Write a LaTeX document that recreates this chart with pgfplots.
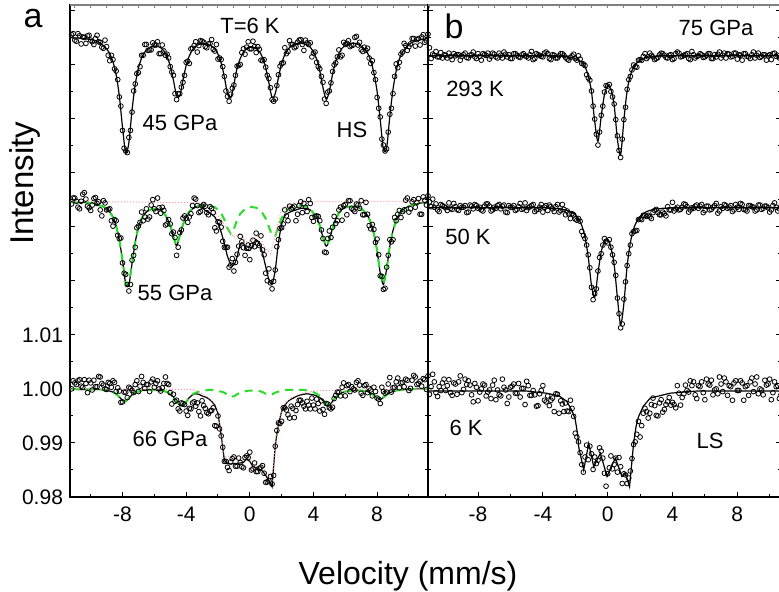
\documentclass[border=0pt]{standalone}
\usepackage{fontspec}
\setmainfont{Liberation Sans}
\usepackage{pgfplots}
\usepackage{pgfplotstable}
\pgfplotsset{compat=1.18}
\definecolor{fitgreen}{RGB}{40,220,40}
\definecolor{lspink}{RGB}{255,150,150}

\pgfplotstableread{
x a1 fa1 a2 fa2 ga2 a3 fa3 ga3 b1 fb1 b2 fb2 b3
-11.2 1.0655 1.0649 1.0342 1.0345 1.0345 1.0000 1.0000 1.0000 1.0617 1.0616 1.0331 1.0335 1.0011
-11.0 1.0645 1.0649 1.0353 1.0345 1.0345 1.0011 1.0000 1.0000 1.0631 1.0616 1.0346 1.0335 0.9990
-10.8 1.0657 1.0649 1.0336 1.0345 1.0345 1.0015 0.9999 0.9999 1.0619 1.0616 1.0351 1.0335 1.0027
-10.6 1.0638 1.0648 1.0347 1.0345 1.0345 1.0005 0.9999 0.9999 1.0624 1.0616 1.0342 1.0335 0.9993
-10.4 1.0650 1.0648 1.0363 1.0345 1.0345 1.0017 0.9999 0.9999 1.0614 1.0616 1.0328 1.0335 1.0004
-10.2 1.0653 1.0647 1.0338 1.0344 1.0344 0.9993 0.9999 0.9999 1.0612 1.0616 1.0339 1.0335 1.0011
-10.0 1.0645 1.0646 1.0330 1.0344 1.0344 1.0011 0.9999 0.9999 1.0617 1.0616 1.0335 1.0335 0.9997
-9.8 1.0637 1.0645 1.0352 1.0343 1.0343 1.0016 0.9999 0.9999 1.0621 1.0616 1.0344 1.0335 1.0017
-9.6 1.0654 1.0643 1.0343 1.0341 1.0341 1.0004 0.9999 0.9999 1.0609 1.0616 1.0332 1.0335 0.9988
-9.4 1.0641 1.0640 1.0331 1.0339 1.0339 1.0022 0.9999 0.9999 1.0616 1.0616 1.0337 1.0335 1.0009
-9.2 1.0630 1.0635 1.0348 1.0337 1.0337 1.0007 0.9998 0.9998 1.0618 1.0616 1.0330 1.0335 1.0013
-9.0 1.0633 1.0629 1.0331 1.0333 1.0333 0.9999 0.9997 0.9997 1.0615 1.0616 1.0336 1.0335 0.9993
-8.8 1.0607 1.0620 1.0333 1.0327 1.0327 1.0010 0.9996 0.9996 1.0621 1.0616 1.0339 1.0335 1.0018
-8.6 1.0609 1.0605 1.0301 1.0318 1.0318 1.0015 0.9994 0.9994 1.0612 1.0616 1.0327 1.0335 1.0015
-8.4 1.0588 1.0581 1.0311 1.0302 1.0302 0.9995 0.9991 0.9991 1.0618 1.0616 1.0338 1.0335 0.9989
-8.2 1.0540 1.0542 1.0278 1.0275 1.0275 0.9996 0.9985 0.9985 1.0614 1.0616 1.0341 1.0335 1.0010
-8.0 1.0478 1.0484 1.0233 1.0238 1.0238 0.9976 0.9979 0.9979 1.0620 1.0616 1.0334 1.0335 0.9978
-7.8 1.0440 1.0437 1.0212 1.0195 1.0195 0.9994 0.9977 0.9977 1.0608 1.0616 1.0331 1.0335 1.0000
-7.6 1.0465 1.0455 1.0181 1.0193 1.0193 1.0003 0.9983 0.9983 1.0618 1.0616 1.0338 1.0335 1.0007
-7.4 1.0512 1.0516 1.0238 1.0232 1.0232 0.9997 0.9989 0.9989 1.0621 1.0616 1.0342 1.0335 0.9994
-7.2 1.0564 1.0563 1.0262 1.0271 1.0271 1.0008 0.9993 0.9993 1.0615 1.0616 1.0329 1.0335 0.9982
-7.0 1.0585 1.0593 1.0301 1.0299 1.0299 0.9995 0.9995 0.9995 1.0619 1.0616 1.0336 1.0335 1.0016
-6.8 1.0617 1.0612 1.0327 1.0315 1.0315 1.0023 0.9997 0.9997 1.0612 1.0616 1.0339 1.0335 0.9998
-6.6 1.0637 1.0623 1.0318 1.0324 1.0324 1.0001 0.9998 0.9998 1.0617 1.0616 1.0333 1.0335 0.9987
-6.4 1.0626 1.0629 1.0314 1.0329 1.0329 1.0008 0.9998 0.9998 1.0623 1.0616 1.0340 1.0335 1.0003
-6.2 1.0627 1.0633 1.0340 1.0332 1.0332 1.0013 0.9998 0.9998 1.0614 1.0616 1.0326 1.0335 0.9973
-6.0 1.0636 1.0634 1.0333 1.0333 1.0333 1.0003 0.9998 0.9998 1.0611 1.0616 1.0336 1.0335 1.0003
-5.8 1.0642 1.0634 1.0353 1.0333 1.0333 1.0015 0.9997 0.9997 1.0620 1.0616 1.0339 1.0335 1.0009
-5.6 1.0620 1.0631 1.0325 1.0331 1.0331 0.9996 0.9997 0.9997 1.0617 1.0616 1.0332 1.0335 0.9992
-5.4 1.0625 1.0625 1.0330 1.0325 1.0325 1.0010 0.9996 0.9996 1.0613 1.0616 1.0343 1.0335 0.9985
-5.2 1.0619 1.0615 1.0305 1.0316 1.0316 1.0010 0.9994 0.9994 1.0620 1.0616 1.0334 1.0335 1.0001
-5.0 1.0596 1.0597 1.0305 1.0302 1.0302 0.9993 0.9990 0.9990 1.0615 1.0616 1.0330 1.0335 1.0014
-4.8 1.0580 1.0571 1.0290 1.0281 1.0281 0.9990 0.9985 0.9985 1.0618 1.0616 1.0337 1.0335 0.9988
-4.6 1.0535 1.0542 1.0247 1.0265 1.0265 0.9979 0.9977 0.9977 1.0609 1.0616 1.0341 1.0335 0.9997
-4.4 1.0546 1.0542 1.0289 1.0283 1.0283 0.9959 0.9969 0.9969 1.0620 1.0616 1.0331 1.0335 0.9968
-4.2 1.0567 1.0571 1.0316 1.0304 1.0304 0.9973 0.9968 0.9968 1.0617 1.0616 1.0336 1.0335 0.9991
-4.0 1.0604 1.0598 1.0316 1.0319 1.0319 0.9959 0.9976 0.9976 1.0614 1.0616 1.0327 1.0335 1.0006
-3.8 1.0602 1.0616 1.0318 1.0327 1.0328 0.9964 0.9984 0.9984 1.0623 1.0616 1.0339 1.0335 0.9976
-3.6 1.0630 1.0627 1.0339 1.0333 1.0334 0.9974 0.9989 0.9990 1.0611 1.0616 1.0340 1.0334 0.9969
-3.4 1.0642 1.0634 1.0351 1.0336 1.0337 0.9968 0.9991 0.9993 1.0618 1.0616 1.0333 1.0334 0.9983
-3.2 1.0635 1.0637 1.0326 1.0338 1.0339 0.9958 0.9990 0.9995 1.0612 1.0616 1.0337 1.0334 0.9991
-3.0 1.0643 1.0638 1.0338 1.0336 1.0340 0.9978 0.9987 0.9996 1.0616 1.0615 1.0327 1.0333 0.9955
-2.8 1.0633 1.0639 1.0338 1.0330 1.0340 0.9964 0.9985 0.9997 1.0620 1.0615 1.0341 1.0332 0.9972
-2.6 1.0638 1.0637 1.0322 1.0327 1.0340 0.9954 0.9982 0.9998 1.0613 1.0615 1.0322 1.0331 0.9974
-2.4 1.0646 1.0634 1.0334 1.0323 1.0338 0.9960 0.9977 0.9998 1.0608 1.0614 1.0324 1.0329 0.9958
-2.2 1.0625 1.0629 1.0298 1.0318 1.0336 0.9932 0.9970 0.9997 1.0616 1.0613 1.0324 1.0326 0.9964
-2.0 1.0610 1.0619 1.0309 1.0306 1.0331 0.9950 0.9955 0.9996 1.0611 1.0611 1.0314 1.0322 0.9918
-1.8 1.0609 1.0603 1.0299 1.0290 1.0325 0.9913 0.9915 0.9995 1.0616 1.0608 1.0315 1.0315 0.9902
-1.6 1.0578 1.0577 1.0262 1.0268 1.0313 0.9866 0.9868 0.9993 1.0602 1.0604 1.0291 1.0302 0.9860
-1.4 1.0541 1.0546 1.0262 1.0245 1.0297 0.9855 0.9862 0.9989 1.0598 1.0596 1.0278 1.0281 0.9874
-1.2 1.0545 1.0538 1.0229 1.0231 1.0287 0.9865 0.9861 0.9986 1.0575 1.0579 1.0248 1.0244 0.9869
-1.0 1.0562 1.0563 1.0218 1.0229 1.0296 0.9874 0.9862 0.9986 1.0551 1.0550 1.0188 1.0192 0.9880
-0.8 1.0597 1.0593 1.0249 1.0244 1.0312 0.9857 0.9862 0.9990 1.0499 1.0495 1.0176 1.0170 0.9874
-0.6 1.0600 1.0611 1.0282 1.0268 1.0324 0.9864 0.9863 0.9993 1.0451 1.0458 1.0218 1.0214 0.9868
-0.4 1.0629 1.0623 1.0261 1.0269 1.0330 0.9854 0.9864 0.9995 1.0506 1.0504 1.0250 1.0253 0.9885
-0.2 1.0632 1.0630 1.0260 1.0258 1.0334 0.9876 0.9870 0.9996 1.0549 1.0544 1.0278 1.0272 0.9844
0.0 1.0629 1.0632 1.0239 1.0256 1.0336 0.9883 0.9866 0.9997 1.0560 1.0561 1.0270 1.0277 0.9843
0.2 1.0643 1.0632 1.0275 1.0266 1.0336 0.9852 0.9856 0.9997 1.0550 1.0554 1.0262 1.0261 0.9876
0.4 1.0622 1.0630 1.0288 1.0276 1.0335 0.9847 0.9854 0.9997 1.0527 1.0525 1.0234 1.0230 0.9860
0.6 1.0628 1.0624 1.0265 1.0268 1.0331 0.9853 0.9851 0.9996 1.0468 1.0462 1.0168 1.0169 0.9846
0.8 1.0607 1.0613 1.0257 1.0251 1.0325 0.9858 0.9848 0.9994 1.0428 1.0433 1.0113 1.0119 0.9856
1.0 1.0595 1.0594 1.0214 1.0226 1.0315 0.9827 0.9840 0.9991 1.0498 1.0497 1.0166 1.0158 0.9843
1.2 1.0574 1.0566 1.0222 1.0202 1.0300 0.9830 0.9830 0.9989 1.0554 1.0551 1.0228 1.0227 0.9825
1.4 1.0535 1.0539 1.0185 1.0194 1.0283 0.9824 0.9819 0.9990 1.0578 1.0580 1.0266 1.0270 0.9848
1.6 1.0536 1.0546 1.0220 1.0220 1.0283 0.9894 0.9895 0.9993 1.0599 1.0595 1.0291 1.0296 0.9897
1.8 1.0581 1.0576 1.0276 1.0270 1.0300 0.9937 0.9936 0.9995 1.0595 1.0603 1.0293 1.0310 0.9916
2.0 1.0602 1.0602 1.0298 1.0304 1.0316 0.9940 0.9958 0.9997 1.0609 1.0608 1.0314 1.0319 0.9911
2.2 1.0631 1.0618 1.0331 1.0320 1.0326 0.9965 0.9970 0.9998 1.0615 1.0611 1.0321 1.0324 0.9955
2.4 1.0624 1.0628 1.0311 1.0325 1.0332 0.9952 0.9977 0.9998 1.0611 1.0613 1.0319 1.0328 0.9958
2.6 1.0637 1.0634 1.0333 1.0328 1.0336 0.9968 0.9981 0.9998 1.0621 1.0614 1.0318 1.0330 0.9955
2.8 1.0631 1.0638 1.0338 1.0330 1.0338 0.9947 0.9984 0.9998 1.0614 1.0615 1.0326 1.0332 0.9983
3.0 1.0641 1.0639 1.0323 1.0332 1.0339 0.9971 0.9987 0.9998 1.0611 1.0615 1.0332 1.0333 0.9951
3.2 1.0646 1.0640 1.0346 1.0334 1.0339 0.9979 0.9989 0.9998 1.0618 1.0616 1.0322 1.0333 0.9974
3.4 1.0626 1.0638 1.0343 1.0334 1.0338 0.9968 0.9990 0.9998 1.0620 1.0616 1.0327 1.0334 0.9957
3.6 1.0640 1.0636 1.0328 1.0334 1.0336 0.9977 0.9991 0.9997 1.0613 1.0616 1.0320 1.0334 0.9971
3.8 1.0640 1.0632 1.0343 1.0331 1.0333 0.9963 0.9990 0.9996 1.0617 1.0616 1.0331 1.0335 0.9984
4.0 1.0621 1.0623 1.0310 1.0325 1.0325 0.9970 0.9989 0.9994 1.0609 1.0616 1.0345 1.0335 0.9975
4.2 1.0604 1.0610 1.0320 1.0317 1.0317 0.9981 0.9987 0.9991 1.0620 1.0616 1.0333 1.0335 0.9965
4.4 1.0592 1.0588 1.0311 1.0302 1.0302 0.9959 0.9984 0.9987 1.0621 1.0616 1.0331 1.0335 0.9992
4.6 1.0567 1.0557 1.0278 1.0280 1.0280 0.9962 0.9978 0.9980 1.0615 1.0616 1.0336 1.0335 0.9984
4.8 1.0528 1.0536 1.0252 1.0264 1.0264 0.9973 0.9971 0.9972 1.0618 1.0616 1.0341 1.0335 1.0007
5.0 1.0551 1.0550 1.0292 1.0275 1.0275 0.9965 0.9969 0.9970 1.0611 1.0616 1.0327 1.0335 0.9994
5.2 1.0587 1.0582 1.0299 1.0297 1.0297 0.9966 0.9977 0.9977 1.0624 1.0616 1.0335 1.0335 1.0006
5.4 1.0603 1.0606 1.0306 1.0314 1.0314 0.9988 0.9985 0.9985 1.0612 1.0616 1.0338 1.0335 0.9989
5.6 1.0627 1.0620 1.0331 1.0325 1.0325 0.9994 0.9990 0.9990 1.0616 1.0616 1.0334 1.0335 1.0006
5.8 1.0617 1.0630 1.0312 1.0332 1.0332 1.0003 0.9993 0.9993 1.0618 1.0616 1.0341 1.0335 1.0013
6.0 1.0637 1.0635 1.0341 1.0335 1.0335 0.9987 0.9995 0.9995 1.0614 1.0616 1.0330 1.0335 0.9980
6.2 1.0644 1.0638 1.0348 1.0337 1.0337 1.0008 0.9996 0.9996 1.0620 1.0616 1.0338 1.0335 1.0009
6.4 1.0635 1.0639 1.0334 1.0337 1.0337 1.0004 0.9997 0.9997 1.0611 1.0616 1.0332 1.0335 1.0016
6.6 1.0650 1.0639 1.0328 1.0337 1.0337 0.9998 0.9997 0.9997 1.0618 1.0616 1.0339 1.0335 0.9998
6.8 1.0636 1.0637 1.0340 1.0335 1.0335 1.0015 0.9997 0.9997 1.0619 1.0616 1.0325 1.0335 0.9991
7.0 1.0627 1.0634 1.0348 1.0333 1.0333 0.9992 0.9997 0.9997 1.0612 1.0616 1.0337 1.0335 1.0009
7.2 1.0632 1.0629 1.0322 1.0328 1.0328 1.0006 0.9996 0.9996 1.0621 1.0616 1.0341 1.0335 1.0020
7.4 1.0630 1.0621 1.0323 1.0321 1.0321 0.9993 0.9995 0.9995 1.0620 1.0616 1.0334 1.0335 0.9988
7.6 1.0602 1.0607 1.0296 1.0308 1.0308 0.9998 0.9992 0.9992 1.0614 1.0616 1.0339 1.0335 1.0004
7.8 1.0585 1.0584 1.0295 1.0287 1.0287 1.0003 0.9988 0.9988 1.0621 1.0616 1.0331 1.0335 1.0011
8.0 1.0539 1.0550 1.0277 1.0256 1.0256 0.9983 0.9983 0.9983 1.0610 1.0616 1.0336 1.0335 0.9997
8.2 1.0503 1.0497 1.0209 1.0214 1.0214 0.9973 0.9980 0.9980 1.0617 1.0616 1.0343 1.0335 1.0015
8.4 1.0451 1.0443 1.0184 1.0193 1.0193 0.9995 0.9984 0.9984 1.0620 1.0616 1.0332 1.0335 0.9979
8.6 1.0444 1.0446 1.0225 1.0222 1.0222 0.9994 0.9989 0.9989 1.0615 1.0616 1.0329 1.0335 1.0006
8.8 1.0508 1.0504 1.0276 1.0264 1.0264 1.0021 0.9993 0.9993 1.0611 1.0616 1.0339 1.0335 1.0013
9.0 1.0546 1.0554 1.0276 1.0293 1.0293 1.0002 0.9995 0.9995 1.0623 1.0616 1.0336 1.0335 0.9995
9.2 1.0601 1.0588 1.0311 1.0311 1.0311 1.0013 0.9997 0.9997 1.0617 1.0616 1.0331 1.0335 1.0022
9.4 1.0604 1.0610 1.0330 1.0324 1.0324 1.0002 0.9998 0.9998 1.0613 1.0616 1.0340 1.0335 1.0000
9.6 1.0623 1.0623 1.0328 1.0330 1.0330 1.0012 0.9998 0.9998 1.0618 1.0616 1.0334 1.0335 0.9989
9.8 1.0635 1.0631 1.0349 1.0335 1.0335 1.0018 0.9999 0.9999 1.0608 1.0616 1.0338 1.0335 1.0007
10.0 1.0633 1.0637 1.0327 1.0338 1.0338 0.9997 0.9999 0.9999 1.0618 1.0616 1.0327 1.0335 1.0018
10.2 1.0648 1.0641 1.0346 1.0340 1.0340 1.0016 0.9999 0.9999 1.0620 1.0616 1.0339 1.0335 0.9993
10.4 1.0634 1.0643 1.0336 1.0342 1.0342 1.0022 1.0000 1.0000 1.0615 1.0616 1.0336 1.0335 1.0004
10.6 1.0648 1.0645 1.0352 1.0343 1.0343 1.0010 1.0000 1.0000 1.0612 1.0616 1.0333 1.0335 0.9982
10.8 1.0651 1.0646 1.0323 1.0344 1.0344 1.0005 1.0000 1.0000 1.0618 1.0616 1.0343 1.0335 1.0013
11.0 1.0641 1.0647 1.0349 1.0344 1.0344 1.0017 1.0000 1.0000 1.0622 1.0616 1.0329 1.0335 1.0016
11.2 1.0656 1.0648 1.0357 1.0345 1.0345 1.0024 1.0000 1.0000 1.0614 1.0616 1.0338 1.0335 0.9998
}\spec

\pgfplotstableread{
x a1 a2 a3 b1 b2 b3
-11.1 1.0657 1.0353 1.0015 1.0634 1.0349 1.0027
-10.9 1.0643 1.0347 1.0008 1.0611 1.0337 1.0004
-10.7 1.0653 1.0333 1.0017 1.0617 1.0336 1.0013
-10.5 1.0651 1.0360 1.0003 1.0614 1.0331 0.9986
-10.3 1.0639 1.0351 1.0010 1.0622 1.0341 0.9997
-10.1 1.0654 1.0335 1.0016 1.0618 1.0337 1.0018
-9.9 1.0642 1.0340 0.9998 1.0612 1.0330 1.0006
-9.7 1.0648 1.0354 1.0004 1.0615 1.0334 0.9993
-9.5 1.0642 1.0346 1.0023 1.0620 1.0343 1.0011
-9.3 1.0632 1.0320 1.0010 1.0618 1.0332 0.9990
-9.1 1.0645 1.0344 1.0000 1.0608 1.0339 1.0024
-8.9 1.0617 1.0332 1.0012 1.0618 1.0336 0.9999
-8.7 1.0617 1.0311 1.0003 1.0613 1.0326 1.0008
-8.5 1.0592 1.0313 1.0012 1.0617 1.0340 1.0007
-8.3 1.0572 1.0284 1.0002 1.0623 1.0333 0.9976
-8.1 1.0523 1.0279 0.9975 1.0611 1.0339 1.0003
-7.9 1.0445 1.0214 0.9994 1.0615 1.0336 0.9994
-7.7 1.0437 1.0193 0.9984 1.0620 1.0329 1.0009
-7.5 1.0478 1.0193 1.0001 1.0617 1.0342 0.9987
-7.3 1.0551 1.0247 0.9993 1.0610 1.0338 0.9998
-7.1 1.0583 1.0298 1.0015 1.0621 1.0331 1.0007
-6.9 1.0596 1.0308 1.0005 1.0614 1.0334 0.9980
-6.7 1.0617 1.0311 1.0012 1.0621 1.0341 0.9989
-6.5 1.0637 1.0333 1.0008 1.0612 1.0338 1.0018
-6.3 1.0627 1.0318 0.9995 1.0619 1.0327 0.9998
-6.1 1.0640 1.0350 1.0018 1.0618 1.0339 0.9985
-5.9 1.0636 1.0328 1.0010 1.0611 1.0336 1.0005
-5.7 1.0620 1.0335 1.0000 1.0620 1.0330 0.9992
-5.5 1.0636 1.0336 1.0002 1.0614 1.0337 1.0010
-5.3 1.0617 1.0303 1.0022 1.0618 1.0332 1.0001
-5.1 1.0612 1.0313 1.0008 1.0616 1.0344 0.9971
-4.9 1.0586 1.0287 0.9972 1.0612 1.0335 1.0006
-4.7 1.0546 1.0280 0.9977 1.0624 1.0339 0.9988
-4.5 1.0546 1.0262 0.9963 1.0611 1.0328 0.9989
-4.3 1.0558 1.0294 0.9974 1.0618 1.0332 0.9969
-4.1 1.0580 1.0320 0.9971 1.0615 1.0341 0.9997
-3.9 1.0606 1.0308 0.9951 1.0621 1.0336 0.9979
-3.7 1.0629 1.0324 0.9963 1.0620 1.0330 0.9987
-3.5 1.0635 1.0353 0.9976 1.0609 1.0337 0.9979
-3.3 1.0623 1.0339 0.9974 1.0617 1.0328 0.9958
-3.1 1.0644 1.0328 0.9950 1.0612 1.0341 0.9990
-2.9 1.0641 1.0341 0.9969 1.0620 1.0330 0.9978
-2.7 1.0631 1.0326 0.9956 1.0617 1.0332 0.9958
-2.5 1.0639 1.0337 0.9959 1.0610 1.0329 0.9959
-2.3 1.0628 1.0326 0.9965 1.0613 1.0315 0.9979
-2.1 1.0637 1.0292 0.9931 1.0619 1.0322 0.9949
-1.9 1.0612 1.0308 0.9926 1.0608 1.0312 0.9911
-1.7 1.0596 1.0273 0.9892 1.0610 1.0310 0.9882
-1.5 1.0551 1.0262 0.9866 1.0601 1.0284 0.9846
-1.3 1.0532 1.0225 0.9849 1.0581 1.0266 0.9896
-1.1 1.0556 1.0241 0.9871 1.0571 1.0224 0.9894
-0.9 1.0580 1.0234 0.9857 1.0523 1.0165 0.9851
-0.7 1.0598 1.0264 0.9872 1.0471 1.0185 0.9862
-0.5 1.0622 1.0272 0.9856 1.0475 1.0243 0.9891
-0.3 1.0619 1.0247 0.9873 1.0523 1.0266 0.9872
-0.1 1.0642 1.0266 0.9873 1.0561 1.0273 0.9820
0.1 1.0629 1.0265 0.9850 1.0563 1.0276 0.9854
0.3 1.0633 1.0263 0.9863 1.0540 1.0248 0.9852
0.5 1.0633 1.0269 0.9847 1.0498 1.0210 0.9872
0.7 1.0608 1.0283 0.9855 1.0441 1.0139 0.9873
0.9 1.0609 1.0248 0.9844 1.0462 1.0120 0.9825
1.1 1.0580 1.0200 0.9828 1.0521 1.0198 0.9841
1.3 1.0557 1.0196 0.9838 1.0572 1.0250 0.9835
1.5 1.0532 1.0199 0.9840 1.0590 1.0287 0.9871
1.7 1.0561 1.0263 0.9923 1.0596 1.0292 0.9902
1.9 1.0597 1.0297 0.9936 1.0608 1.0313 0.9940
2.1 1.0603 1.0305 0.9965 1.0608 1.0313 0.9932
2.3 1.0620 1.0320 0.9961 1.0620 1.0321 0.9964
2.5 1.0644 1.0338 0.9946 1.0614 1.0321 0.9946
2.7 1.0637 1.0335 0.9964 1.0617 1.0315 0.9971
2.9 1.0633 1.0311 0.9960 1.0609 1.0330 0.9969
3.1 1.0645 1.0339 0.9979 1.0613 1.0326 0.9950
3.3 1.0637 1.0326 0.9974 1.0621 1.0322 0.9980
3.5 1.0645 1.0336 0.9963 1.0617 1.0324 0.9962
3.7 1.0637 1.0350 0.9970 1.0612 1.0337 0.9976
3.9 1.0614 1.0317 0.9983 1.0618 1.0331 0.9970
4.1 1.0623 1.0319 0.9963 1.0611 1.0329 0.9971
4.3 1.0596 1.0319 0.9973 1.0623 1.0336 1.0006
4.5 1.0578 1.0294 0.9978 1.0614 1.0332 0.9970
4.7 1.0536 1.0253 0.9953 1.0617 1.0342 0.9991
4.9 1.0549 1.0278 0.9972 1.0620 1.0337 0.9997
5.1 1.0566 1.0280 0.9963 1.0609 1.0331 1.0015
5.3 1.0599 1.0319 0.9982 1.0618 1.0334 1.0013
5.5 1.0614 1.0311 0.9994 1.0615 1.0340 0.9982
5.7 1.0614 1.0336 0.9987 1.0620 1.0338 1.0004
5.9 1.0641 1.0339 1.0011 1.0613 1.0326 0.9993
6.1 1.0639 1.0322 1.0006 1.0617 1.0338 1.0018
6.3 1.0633 1.0348 0.9995 1.0620 1.0331 1.0007
6.5 1.0636 1.0331 1.0000 1.0611 1.0336 0.9989
6.7 1.0652 1.0342 1.0012 1.0614 1.0343 1.0000
6.9 1.0641 1.0334 1.0007 1.0623 1.0329 1.0022
7.1 1.0624 1.0322 0.9988 1.0617 1.0334 0.9995
7.3 1.0626 1.0345 1.0008 1.0612 1.0339 1.0013
7.5 1.0612 1.0302 1.0001 1.0619 1.0336 1.0006
7.7 1.0607 1.0304 0.9987 1.0615 1.0328 0.9979
7.9 1.0572 1.0271 0.9995 1.0621 1.0341 1.0015
8.1 1.0519 1.0248 0.9981 1.0618 1.0332 0.9997
8.3 1.0462 1.0208 1.0003 1.0608 1.0341 1.0011
8.5 1.0440 1.0186 0.9992 1.0620 1.0331 1.0004
8.7 1.0475 1.0247 1.0009 1.0614 1.0339 0.9988
8.9 1.0519 1.0272 0.9994 1.0618 1.0337 1.0020
9.1 1.0578 1.0317 1.0003 1.0612 1.0329 1.0009
9.3 1.0594 1.0323 1.0020 1.0621 1.0340 0.9991
9.5 1.0619 1.0317 1.0011 1.0615 1.0332 0.9998
9.7 1.0639 1.0331 1.0004 1.0618 1.0338 1.0016
9.9 1.0626 1.0353 1.0016 1.0616 1.0335 1.0009
10.1 1.0638 1.0333 1.0001 1.0609 1.0331 0.9980
10.3 1.0648 1.0350 1.0025 1.0621 1.0344 1.0013
10.5 1.0646 1.0345 1.0008 1.0617 1.0329 1.0006
10.7 1.0636 1.0323 1.0014 1.0612 1.0338 0.9989
10.9 1.0655 1.0355 1.0019 1.0614 1.0334 1.0007
11.1 1.0644 1.0340 0.9999 1.0624 1.0341 0.9995
}\specm

\pgfplotsset{
  panel/.style={
    anchor=south west, scale only axis, height=246pt,
    ymin=0.98, ymax=1.071,
    xtick={-8,-4,0,4,8}, xticklabels={-8,-4,0,4,8},
    minor xtick={-10,-6,-2,2,6,10},
    xtick pos=bottom,
    ytick={0.98,0.99,1.00,1.01,1.02,1.03,1.04,1.05,1.06,1.07},
    minor ytick={0.985,0.995,1.005,1.015,1.025,1.035,1.045,1.055,1.065},
    yticklabel pos=left,
    tick align=inside,
    major tick length=2.4pt, minor tick length=1.4pt,
    tick style={black, line width=0.5pt},
    axis line style={black, line width=0.6pt},
    ticklabel style={font=\fontsize{10.5}{12}\selectfont},
    xticklabel style={yshift=-1.5pt},
  },
  toppanel/.style={
    anchor=south west, scale only axis, height=246pt,
    ymin=0.98, ymax=1.071,
    axis x line*=top, axis y line=none,
    axis line style={-, color=gray, line width=0.7pt},
    xtick={-11,-10,...,11}, xticklabels={},
    tick align=inside, major tick length=1.6pt,
    tick style={gray, line width=0.5pt},
  },
  dat/.style={only marks, mark=o, mark size=1.2pt, mark options={black, line width=0.4pt}},
  fit/.style={no marks, black, line width=0.6pt},
  sfit/.style={no marks, black, line width=0.6pt, smooth, tension=0.5},
  hs/.style={no marks, fitgreen, line width=1pt, dash pattern=on 4pt off 3pt},
  ls/.style={no marks, lspink, line width=0.5pt, densely dotted},
}

\begin{document}
\begin{tikzpicture}
\path[use as bounding box] (0,0) rectangle (389.5pt,295.5pt);

\begin{axis}[panel, at={(35pt,47pt)}, width=179pt, xmin=-11.3, xmax=11.2,
  yticklabels={0.98,0.99,1.00,1.01,,,,,,}]
  \addplot[dat] table[x=x,y=a1]{\spec};
  \addplot[dat] table[x=x,y=a1]{\specm};
  \addplot[dat] table[x=x,y=a2]{\spec};
  \addplot[dat] table[x=x,y=a2]{\specm};
  \addplot[dat] table[x=x,y=a3]{\spec};
  \addplot[dat] table[x=x,y=a3]{\specm};
  \addplot[sfit] table[x=x,y=fa1]{\spec};
  \addplot[sfit] table[x=x,y=fa2]{\spec};
  \addplot[fit] table[x=x,y=fa3]{\spec};
  \addplot[hs] table[x=x,y=ga2]{\spec};
  \addplot[hs] table[x=x,y=ga3]{\spec};
  \addplot[ls] coordinates {(-11.3,1.0347) (-3.0,1.0344) (-2.6,1.0335) (-2.2,1.0328) (-1.8,1.0312) (-1.4,1.0295) (-1.0,1.0280) (-0.6,1.0288) (-0.2,1.0272) (0.2,1.0276) (0.6,1.0284) (1.0,1.0258) (1.3,1.0250) (1.6,1.0283) (2.0,1.0334) (2.6,1.0340) (3.2,1.0346) (11.2,1.0347)};
  \addplot[ls] coordinates {(-11.3,1.0000) (-3.6,0.9999) (-3.0,0.9991) (-2.6,0.9984) (-2.2,0.9973) (-2.0,0.9959) (-1.8,0.9920) (-1.6,0.9875) (-1.2,0.9875) (-0.8,0.9872) (-0.4,0.9869) (-0.2,0.9874) (0.0,0.9869) (0.4,0.9857) (0.8,0.9854) (1.2,0.9841) (1.4,0.9829) (1.6,0.9902) (1.8,0.9941) (2.2,0.9972) (2.6,0.9983) (3.0,0.9989) (3.6,0.9994) (4.4,0.9997) (11.2,1.0000)};
\end{axis}
\begin{axis}[toppanel, at={(35pt,47pt)}, width=179pt, xmin=-11.3, xmax=11.2]
\end{axis}

\begin{axis}[panel, at={(214pt,47pt)}, width=176.5pt, xmin=-11.09, xmax=10.7,
  yticklabels={}]
  \addplot[dat] table[x=x,y=b1]{\spec};
  \addplot[dat] table[x=x,y=b1]{\specm};
  \addplot[dat] table[x=x,y=b2]{\spec};
  \addplot[dat] table[x=x,y=b2]{\specm};
  \addplot[dat] table[x=x,y=b3]{\spec};
  \addplot[dat] table[x=x,y=b3]{\specm};
  \addplot[sfit] table[x=x,y=fb1]{\spec};
  \addplot[sfit] table[x=x,y=fb2]{\spec};
  \addplot[fit] coordinates {(-11.2,0.9996) (-5.0,0.9996) (-3.77,0.9992) (-3.0,0.9987) (-2.53,0.9977) (-2.2,0.9960) (-2.0,0.9943) (-1.85,0.9915) (-1.79,0.9893) (-1.48,0.9850) (-1.17,0.9899) (-0.86,0.9856) (-0.45,0.9881) (-0.04,0.9838) (0.47,0.9872) (0.88,0.9838) (1.09,0.9844) (1.35,0.9819) (1.6,0.9899) (1.75,0.9930) (1.91,0.9949) (2.2,0.9968) (2.63,0.9983) (3.86,0.9992) (5.5,0.9996) (11.2,0.9996)};
\end{axis}
\begin{axis}[toppanel, at={(214pt,47pt)}, width=176.5pt, xmin=-11.09, xmax=10.7]
\end{axis}

\node[font=\fontsize{17}{20}\selectfont, anchor=base] at (16.5pt,282pt) {a};
\node[font=\fontsize{17}{20}\selectfont, anchor=base] at (227pt,276.5pt) {b};
\node[font=\fontsize{11}{13}\selectfont, anchor=base] at (125pt,279pt) {T=6 K};
\node[font=\fontsize{11}{13}\selectfont, anchor=base] at (90pt,230.2pt) {45 GPa};
\node[font=\fontsize{11}{13}\selectfont, anchor=base] at (176pt,227pt) {HS};
\node[font=\fontsize{11}{13}\selectfont, anchor=base] at (87.5pt,145.5pt) {55 GPa};
\node[font=\fontsize{11}{13}\selectfont, anchor=base] at (85pt,72.5pt) {66 GPa};
\node[font=\fontsize{11}{13}\selectfont, anchor=base] at (358pt,278pt) {75 GPa};
\node[font=\fontsize{11}{13}\selectfont, anchor=base] at (237.5pt,247.5pt) {293 K};
\node[font=\fontsize{11}{13}\selectfont, anchor=base] at (234pt,173.5pt) {50 K};
\node[font=\fontsize{11}{13}\selectfont, anchor=base] at (233pt,78pt) {6 K};
\node[font=\fontsize{11}{13}\selectfont, anchor=base] at (355pt,71.5pt) {LS};
\node[font=\fontsize{16}{19}\selectfont, anchor=base] at (204pt,3.2pt) {Velocity (mm/s)};
\node[font=\fontsize{16.5}{19}\selectfont, anchor=base, rotate=90] at (16.5pt,203.8pt) {Intensity};
\end{tikzpicture}
\end{document}
